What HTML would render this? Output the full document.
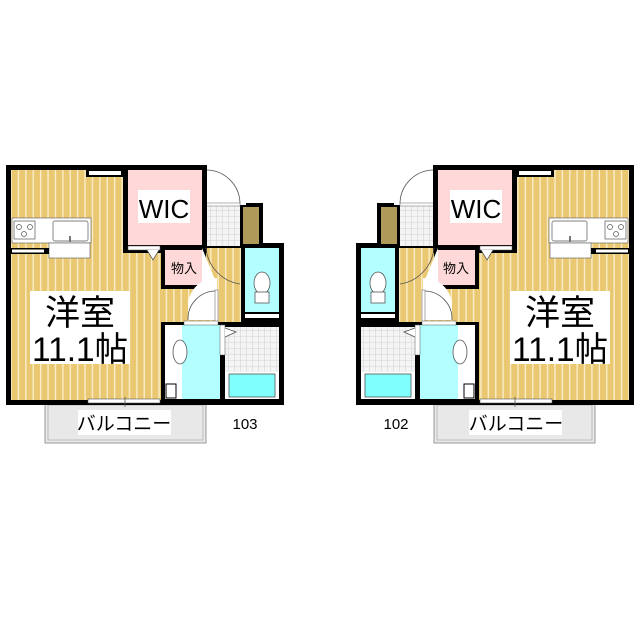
<!DOCTYPE html>
<html><head><meta charset="utf-8"><style>
html,body{margin:0;padding:0;background:#fff;width:640px;height:640px;overflow:hidden}
svg{display:block}
.t{font-family:"Liberation Sans","Noto Sans CJK JP",sans-serif;fill:#000}
</style></head><body>
<svg width="640" height="640" viewBox="0 0 640 640" xmlns="http://www.w3.org/2000/svg">
<defs>
<pattern id="st" x="0" y="0" width="7.4" height="10" patternUnits="userSpaceOnUse">
<rect width="7.4" height="10" fill="#eac872"/><rect x="3" width="1.3" height="10" fill="#fbefcf"/>
</pattern>
<pattern id="tl" x="0" y="0" width="6" height="6" patternUnits="userSpaceOnUse">
<rect width="6" height="6" fill="#f4f4f4"/><path d="M0 0H6M0 0V6" stroke="#c8c8c8" stroke-width="0.8"/>
</pattern>
<g id="u">
<rect x="45" y="403" width="161" height="40" fill="#e8e8e8" stroke="#999" stroke-width="1"/>
<rect x="48" y="405" width="155" height="35" fill="none" stroke="#bbb" stroke-width="1"/>
<rect x="6" y="165" width="200" height="240" fill="#000"/>
<rect x="206" y="203" width="57" height="45" fill="#000"/>
<rect x="206" y="243" width="78" height="162" fill="#000"/>
<rect x="11" y="170" width="150" height="230" fill="url(#st)"/>
<rect x="161" y="286" width="80" height="36" fill="url(#st)"/>
<rect x="206" y="248" width="35" height="40" fill="url(#st)"/>
<rect x="206" y="165" width="40" height="40" fill="#fff"/>
<path d="M206 170 A34 34 0 0 1 240 204 L206 204" fill="#fff" stroke="#555" stroke-width="0.8"/>
<rect x="206" y="206" width="34" height="40" fill="url(#tl)"/>
<rect x="206" y="203" width="34" height="3" fill="#fff" stroke="#666" stroke-width="0.5"/>
<rect x="243" y="207" width="16" height="37" fill="#b09a5a"/>
<rect x="123" y="165" width="84" height="88" fill="#000"/>
<rect x="128" y="170" width="74" height="75" fill="#ffd9d9"/>
<rect x="128" y="246" width="32" height="4" fill="#fff" stroke="#555" stroke-width="0.5"/>
<path d="M147 250 L153 260 L159 250" fill="#fff" stroke="#555" stroke-width="0.8"/>
<rect x="86" y="170" width="37" height="7" fill="#000"/>
<rect x="89" y="171" width="32" height="4" fill="#fff"/>
<rect x="12" y="218" width="79" height="25" fill="#fff" stroke="#555" stroke-width="0.6"/>
<rect x="49" y="243" width="41" height="15" fill="#fff" stroke="#555" stroke-width="0.6"/>
<rect x="14" y="221" width="21" height="18" fill="#fff" stroke="#555" stroke-width="0.7"/>
<circle cx="19" cy="227" r="2.5" fill="none" stroke="#555" stroke-width="0.7"/>
<circle cx="30" cy="227" r="2.5" fill="none" stroke="#555" stroke-width="0.7"/>
<circle cx="24" cy="234" r="2.5" fill="none" stroke="#555" stroke-width="0.7"/>
<rect x="53" y="221" width="35" height="20" rx="2" fill="#fff" stroke="#555" stroke-width="0.7"/>
<rect x="69" y="236" width="2" height="6" fill="#777"/>
<rect x="11" y="248" width="38" height="6" fill="#000"/>
<rect x="12" y="249.5" width="32" height="3" fill="#fff"/>
<rect x="161" y="245" width="45" height="44" fill="#000"/>
<rect x="165" y="250" width="37" height="35" fill="#ffd9d9"/>
<path d="M202 248 L202 286 L216 282 Z" fill="#fff"/>
<path d="M206 248 A40 40 0 0 0 240 284" fill="none" stroke="#555" stroke-width="0.8"/>
<path d="M188 320 V305 A28 28 0 0 1 217 278 V320 Z" fill="#fff"/>
<path d="M188 320 A28 28 0 0 1 217 291" fill="none" stroke="#555" stroke-width="0.8"/>
<rect x="215" y="290" width="3" height="32" fill="#fff" stroke="#555" stroke-width="0.5"/>
<rect x="245" y="248" width="34" height="64" fill="#b3ffff"/>
<rect x="245" y="314" width="34" height="4" fill="#fff"/>
<ellipse cx="262" cy="283" rx="8" ry="11" fill="#fff" stroke="#555" stroke-width="0.8"/>
<rect x="255" y="292" width="14" height="11" fill="#fff" stroke="#555" stroke-width="0.8"/>
<rect x="165" y="325" width="17" height="74" fill="#fff"/>
<rect x="182" y="325" width="38" height="74" fill="#b3ffff"/>
<rect x="184" y="321" width="34" height="4" fill="#fff" stroke="#555" stroke-width="0.5"/>
<ellipse cx="180" cy="352" rx="7" ry="12" fill="#fff" stroke="#555" stroke-width="0.8"/>
<rect x="166" y="384" width="10" height="14" fill="#fff" stroke="#000" stroke-width="1"/>
<rect x="225" y="327" width="54" height="45" fill="url(#tl)"/>
<rect x="225" y="372" width="54" height="27" fill="#fff"/>
<rect x="229" y="374" width="46" height="23" fill="#80ffff" stroke="#555" stroke-width="0.8"/>
<rect x="220" y="325" width="5" height="30" fill="#fff" stroke="#555" stroke-width="0.5"/>
<path d="M225 328 L236 332 L225 337" fill="#fff" stroke="#555" stroke-width="0.8"/>
<rect x="88" y="399" width="72" height="4" fill="#fff" stroke="#555" stroke-width="0.6"/>
<line x1="125" y1="397" x2="125" y2="407" stroke="#555" stroke-width="0.8"/>
</g>
</defs>
<use href="#u"/>
<use href="#u" transform="translate(640,0) scale(-1,1)"/>
<rect x="138" y="190" width="52" height="33" fill="#fff"/>
<text class="t" x="164" y="218" font-size="26" text-anchor="middle">WIC</text>
<text class="t" x="184" y="273" font-size="13" text-anchor="middle">物入</text>
<rect x="30" y="291" width="100" height="73" fill="#fff"/>
<text class="t" x="80" y="325" font-size="35" text-anchor="middle">洋室</text>
<text class="t" x="80" y="361" font-size="34" text-anchor="middle" textLength="96" lengthAdjust="spacingAndGlyphs">11.1帖</text>
<rect x="78" y="410" width="93" height="25" fill="#fff"/>
<text class="t" x="124" y="430" font-size="19" text-anchor="middle">バルコニー</text>
<text class="t" x="245" y="429" font-size="15" text-anchor="middle">103</text>
<rect x="450" y="190" width="52" height="33" fill="#fff"/>
<text class="t" x="476" y="218" font-size="26" text-anchor="middle">WIC</text>
<text class="t" x="456" y="273" font-size="13" text-anchor="middle">物入</text>
<rect x="510" y="291" width="100" height="73" fill="#fff"/>
<text class="t" x="560" y="325" font-size="35" text-anchor="middle">洋室</text>
<text class="t" x="560" y="361" font-size="34" text-anchor="middle" textLength="96" lengthAdjust="spacingAndGlyphs">11.1帖</text>
<rect x="469" y="410" width="93" height="25" fill="#fff"/>
<text class="t" x="516" y="430" font-size="19" text-anchor="middle">バルコニー</text>
<text class="t" x="396" y="429" font-size="15" text-anchor="middle">102</text>
</svg>
</body></html>
